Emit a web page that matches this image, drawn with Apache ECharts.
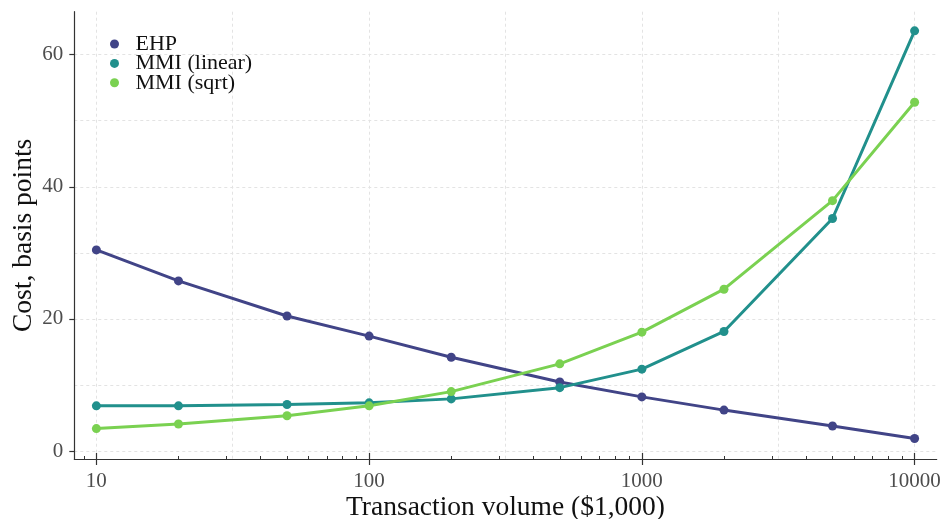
<!DOCTYPE html>
<html>
<head>
<meta charset="utf-8">
<script src="https://cdn.jsdelivr.net/npm/echarts@6/dist/echarts.min.js"></script>
<style>
  html, body { margin: 0; padding: 0; background: #fff; }
  #chart { width: 942px; height: 519px; }
</style>
</head>
<body>
<div id="chart"></div>
<script>
// Transaction volumes ($1,000) and cost in basis points for each pricing scheme
const volumes = [10, 20, 50, 100, 200, 500, 1000, 2000, 5000, 10000];
const ehp = [30.45, 25.75, 20.45, 17.4, 14.2, 10.45, 8.2, 6.2, 3.8, 1.9];
const mmiLinear = [6.85, 6.85, 7.05, 7.3, 7.9, 9.6, 12.4, 18.1, 35.2, 63.6];
const mmiSqrt = [3.4, 4.1, 5.35, 6.85, 9.0, 13.2, 18.0, 24.5, 37.9, 52.8];

// Axis tick positions
const xMajor = [10, 100, 1000, 10000];
const xMinor = [9, 20, 30, 40, 50, 60, 70, 80, 90, 200, 300, 400, 500, 600, 700, 800, 900,
                2000, 3000, 4000, 5000, 6000, 7000, 8000, 9000];
const xGrid = [10, 31.623, 100, 316.23, 1000, 3162.3, 10000];
const yMajor = [0, 20, 40, 60];
const yGrid = [0, 10, 20, 30, 40, 50, 60];

const colors = ['#414487', '#21908C', '#7AD151'];
const serif = '"Liberation Serif", "DejaVu Serif", serif';
const xMin = 8.3, xMax = 12050, yMin = -1.2, yMax = 66.5;

const pairs = arr => volumes.map((v, i) => [v, arr[i]]);

const axisColor = '#333';

const baseX = (extra) => Object.assign({
  type: 'log', logBase: 10, min: xMin, max: xMax, position: 'bottom',
  axisLine: { show: false, onZero: false }, axisTick: { show: false },
  axisLabel: { show: false }, splitLine: { show: false }
}, extra);

const baseY = (extra) => Object.assign({
  type: 'value', min: yMin, max: yMax, position: 'left',
  axisLine: { show: false, onZero: false }, axisTick: { show: false },
  axisLabel: { show: false }, splitLine: { show: false }
}, extra);

const chart = echarts.init(document.getElementById('chart'), null, { renderer: 'canvas' });

const line = (name, data, color) => ({
  name, type: 'line', data: pairs(data),
  xAxisIndex: 0, yAxisIndex: 0,
  symbol: 'circle', symbolSize: 9,
  lineStyle: { width: 3, color },
  itemStyle: { color },
  animation: false
});

chart.setOption({
  animation: false,
  color: colors,
  grid: { left: 74.3, right: 5.3, top: 11.7, bottom: 60, containLabel: false, outerBoundsMode: 'none' },
  legend: {
    orient: 'vertical', left: 105, top: 28,
    icon: 'circle', itemWidth: 32, itemHeight: 9, itemGap: -2.6,
    textStyle: { fontFamily: serif, fontSize: 22, color: '#111', lineHeight: 19 },
    data: ['EHP', 'MMI (linear)', 'MMI (sqrt)']
  },
  xAxis: [
    baseX({
      axisLine: { show: true, onZero: false, lineStyle: { color: axisColor, width: 1.2 } },
      axisTick: { show: true, customValues: xMajor, length: 6, inside: false, lineStyle: { color: axisColor, width: 1.2 } },
      axisLabel: { show: true, customValues: xMajor, margin: 12, color: '#4d4d4d', fontFamily: serif, fontSize: 21,
                   formatter: v => String(Math.round(v)) },
      name: 'Transaction volume ($1,000)', nameLocation: 'middle', nameGap: 35, nameMoveOverlap: false,
      nameTextStyle: { fontFamily: serif, fontSize: 27.5, color: '#111' }
    }),
    baseX({ axisTick: { show: true, customValues: xMajor, length: 6, inside: true, lineStyle: { color: axisColor, width: 1.2 } } }),
    baseX({ axisTick: { show: true, customValues: xMinor, length: 3, inside: true, lineStyle: { color: axisColor, width: 1 } } }),
    baseX({ axisTick: { show: false, customValues: xGrid },
            splitLine: { show: true, lineStyle: { color: '#e3e3e3', width: 1, type: [3, 3] } } })
  ],
  yAxis: [
    baseY({
      axisLine: { show: true, onZero: false, lineStyle: { color: axisColor, width: 1.2 } },
      axisTick: { show: true, customValues: yMajor, length: 5, inside: false, lineStyle: { color: axisColor, width: 1.2 } },
      axisLabel: { show: true, customValues: yMajor, margin: 11, color: '#4d4d4d', fontFamily: serif, fontSize: 21 },
      name: 'Cost, basis points', nameLocation: 'middle', nameGap: 37, nameRotate: 90, nameMoveOverlap: false,
      nameTextStyle: { fontFamily: serif, fontSize: 27.5, color: '#111' }
    }),
    baseY({ axisTick: { show: false, customValues: yGrid },
            splitLine: { show: true, lineStyle: { color: '#e3e3e3', width: 1, type: [3, 3] } } })
  ],
  series: [
    line('EHP', ehp, colors[0]),
    line('MMI (linear)', mmiLinear, colors[1]),
    line('MMI (sqrt)', mmiSqrt, colors[2])
  ]
});
</script>
</body>
</html>
